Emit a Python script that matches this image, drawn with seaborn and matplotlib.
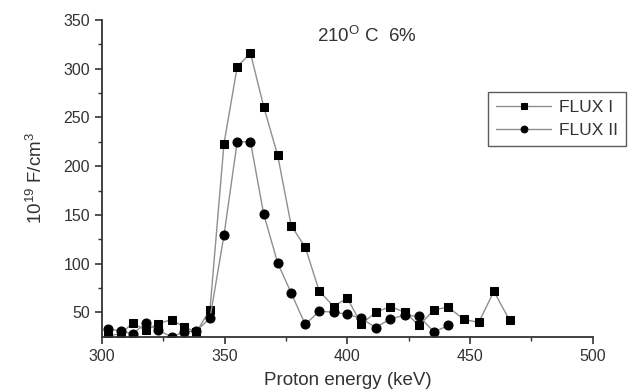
import numpy as np
import pandas as pd
import seaborn as sns
import matplotlib.pyplot as plt

# proton energy (keV) of each measured point
energy = [302.4, 307.6, 312.5, 317.9, 322.9, 328.4, 333.4, 338.5, 344.0, 349.7,
          355.1, 360.5, 365.9, 371.6, 377.1, 382.8, 388.5, 394.4, 399.9, 405.7,
          411.5, 417.5, 423.5, 429.2, 435.3, 441.1, 447.4, 453.5, 459.7, 466.1]

flux1 = [26, 28, 39, 31.5, 38.5, 42.5, 35, 30, 52.7, 223,
         302, 316, 261, 211, 139, 117, 72, 56, 64.7, 38,
         50, 56, 50, 36.6, 52.7, 55.4, 42.8, 39.7, 71.6, 41.7]

flux2 = [33, 31, 28, 39, 31.5, 25, 30, 31, 44, 129,
         225, 225, 150.7, 100.6, 69.8, 37.7, 51, 50.3, 48, 44,
         34.3, 43.5, 47, 45.9, 29.8, 36.6]

df1 = pd.DataFrame({"energy": energy, "flux": flux1})
df2 = pd.DataFrame({"energy": energy[:len(flux2)], "flux": flux2})

sns.set_style("ticks")
plt.rcParams["font.family"] = ["Liberation Sans", "DejaVu Sans"]
plt.rcParams["mathtext.fontset"] = "custom"
plt.rcParams["mathtext.rm"] = "Liberation Sans"

fig = plt.figure(figsize=(6.28, 3.92), dpi=100)
ax = fig.add_axes([0.1624, 0.141, 0.7816, 0.808])

sns.lineplot(data=df1, x="energy", y="flux", ax=ax, color="#8f8f8f", lw=1,
             marker="s", markersize=6, markerfacecolor="black",
             markeredgecolor="black", label="FLUX I", sort=False)
sns.lineplot(data=df2, x="energy", y="flux", ax=ax, color="#8f8f8f", lw=1,
             marker="o", markersize=6.5, markerfacecolor="black",
             markeredgecolor="black", label="FLUX II", sort=False)

ax.set_xlim(300, 500)
ax.set_ylim(25, 350)
ax.set_xticks([300, 350, 400, 450, 500])
ax.set_xticks([325, 375, 425, 475], minor=True)
ax.set_yticks([50, 100, 150, 200, 250, 300, 350])
ax.set_yticks([75, 125, 175, 225, 275, 325], minor=True)
ax.tick_params(which="major", direction="out", length=5, width=1.2,
               labelsize=11.5, labelcolor="#333333", color="#333333")
ax.tick_params(which="minor", direction="out", length=3, width=1.0,
               color="#333333")
for s in ["left", "bottom"]:
    ax.spines[s].set_linewidth(1.3)
    ax.spines[s].set_color("#333333")
sns.despine(ax=ax)

ax.set_xlabel("Proton energy (keV)", fontsize=13.5, color="#333333", labelpad=6)
ax.set_ylabel("10$^{19}$ F/cm$^3$", fontsize=13.5, color="#333333", labelpad=13)

ax.text(387.5, 334, "210$^{\\mathregular{O}}$ C  6%", fontsize=13.5,
        color="#333333", va="center", ha="left")

leg = ax.legend(loc="upper left", bbox_to_anchor=(488 / 628, 1 - 92 / 392),
                bbox_transform=fig.transFigure, fontsize=12.5, frameon=True,
                fancybox=False, borderaxespad=0, handlelength=3.2,
                handletextpad=0.45, borderpad=0.45, labelspacing=0.45,
                markerscale=0.75)
leg.get_frame().set_edgecolor("#333333")
leg.get_frame().set_linewidth(1.0)
for t in leg.get_texts():
    t.set_color("#333333")

fig.savefig("out.png", dpi=100, facecolor="white")
